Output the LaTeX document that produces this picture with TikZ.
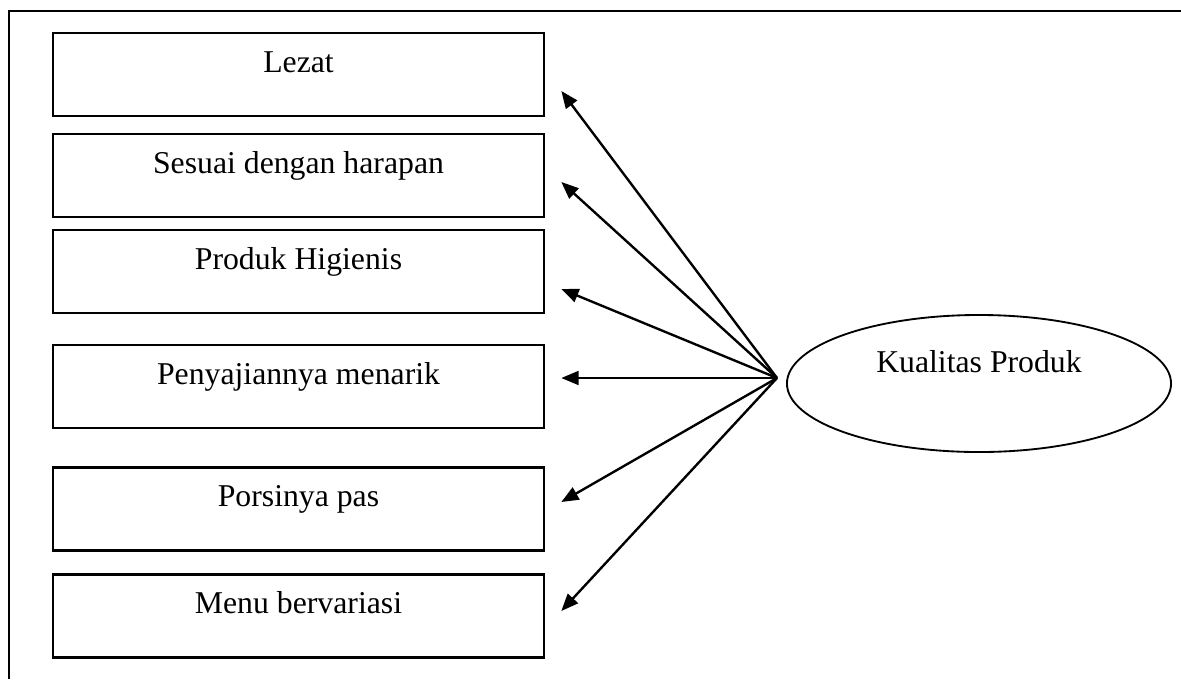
\documentclass[tikz,border=0pt]{standalone}
\usepackage{fontspec}
\setmainfont{Liberation Serif}
\usetikzlibrary{shapes.geometric,arrows.meta}

\begin{document}
\begin{tikzpicture}[x=0.378pt, y=-0.378pt,
	every node/.style={font=\fontsize{12}{14}\selectfont},
	ind/.style={draw, line width=1pt, rectangle, inner sep=0pt, minimum width=185.6pt, text height=14.8pt, text depth=16.6pt},
	var/.style={draw, line width=0.7pt, ellipse, inner sep=0pt, minimum width=145.2pt, minimum height=51.8pt, text height=8pt, text depth=16pt},
	arr/.style={-{Triangle[length=6.5pt,width=5.2pt]}, line width=0.9pt}]
	\useasboundingbox (0,0) rectangle (1181,679);
	\draw[line width=0.8pt] (9,679) |- (1181,11);

	\node[ind] (lezat) at (298.5,74.5) {Lezat};
	\node[ind] (sesuai) at (298.5,175.5) {Sesuai dengan harapan};
	\node[ind] (higienis) at (298.5,271.5) {Produk Higienis};
	\node[ind] (saji) at (298.5,386.5) {Penyajiannya menarik};
	\node[ind] (porsi) at (298.5,509) {Porsinya pas};
	\node[ind] (menu) at (298.5,616) {Menu bervariasi};
	\node[var] (kualitas) at (979,383.5) {Kualitas Produk};
	\coordinate (hub) at (777,378);

	\draw[arr] (hub) -- ([shift={(16,16.5)}]lezat.east);
	\draw[arr] (hub) -- ([shift={(16,6.5)}]sesuai.east);
	\draw[arr] (hub) -- ([shift={(16,17.5)}]higienis.east);
	\draw[arr] (hub) -- ([shift={(16,-8.5)}]saji.east);
	\draw[arr] (hub) -- ([shift={(16,-7)}]porsi.east);
	\draw[arr] (hub) -- ([shift={(16,-5)}]menu.east);

\end{tikzpicture}
\end{document}
